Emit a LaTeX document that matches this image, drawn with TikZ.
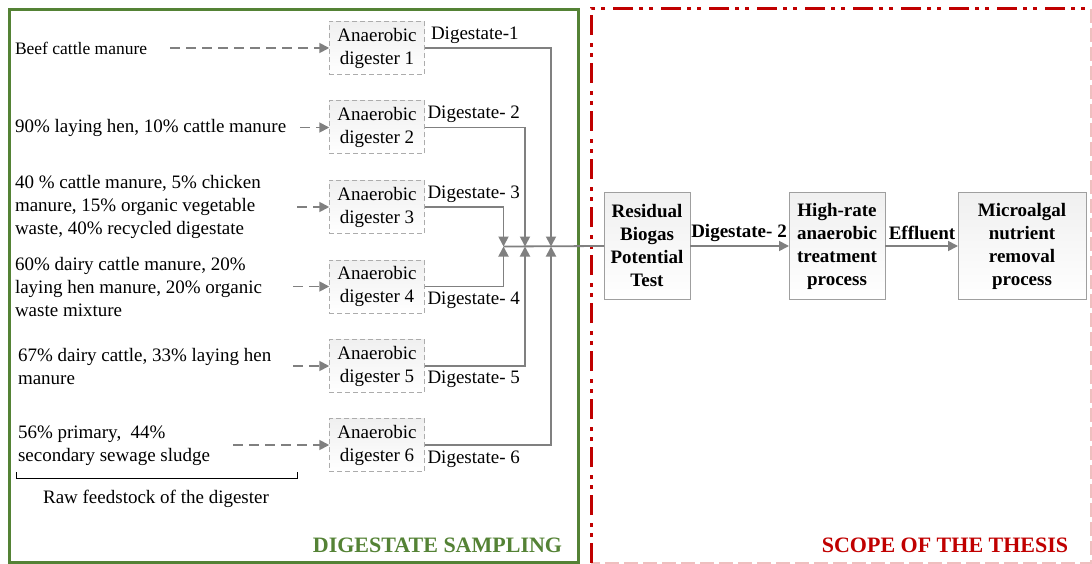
\documentclass[tikz,border=0pt]{standalone}
\usepackage{fontspec}
\setmainfont{Liberation Serif}
\usetikzlibrary{arrows.meta}
\definecolor{frameGreen}{RGB}{84,130,53}
\definecolor{frameRed}{RGB}{192,0,0}
\definecolor{lineGray}{RGB}{128,128,128}
\begin{document}
\begin{tikzpicture}[x=1pt,y=-1pt,
  every node/.style={inner sep=0pt, outer sep=0pt, font=\fontsize{19}{23}\selectfont},
  feedtext/.style={anchor=west, align=left},
  digbox/.style={draw=gray!65, line width=1pt, dash pattern=on 5pt off 3pt,
    top color=gray!12, bottom color=white, minimum width=95.5pt, minimum height=53pt, align=center},
  procbox/.style={draw=gray!75, line width=1pt, top color=gray!12, bottom color=white,
    minimum height=106pt, align=center, font=\bfseries\fontsize{19}{23}\selectfont},
  conn/.style={draw=lineGray, line width=1.8pt},
  tipped/.style={-{Triangle[length=10pt,width=10pt]}},
  feed/.style={conn, tipped, dash pattern=on 10pt off 6pt},
  dlabel/.style={anchor=west},
  blabel/.style={font=\bfseries\fontsize{19}{23}\selectfont},
  greenframe/.style={draw=frameGreen, line width=3pt},
  redframe/.style={draw=frameRed, line width=3pt,
    dash pattern=on 20pt off 6pt on 4pt off 6pt on 4pt off 8pt},
  redfaint/.style={draw=frameRed!25, line width=2pt, dash pattern=on 14pt off 5pt},
  titletext/.style={font=\bfseries\fontsize{22}{26}\selectfont}
]
\useasboundingbox (0,0) rectangle (1092,564);

% frames
\draw[greenframe] (9.5,9.5) rectangle (578,562);
\coordinate (r1) at (591,563);
\coordinate (r2) at (591,9);
\coordinate (r3) at (1091,9);
\coordinate (r4) at (1091,563);
\draw[redfaint] (r3) -- (r4) -- (r1);
\draw[redframe] (r1) -- (r2) -- (r3);

% feedstock texts
\node[feedtext, font=\fontsize{17.5}{23}\selectfont] (f1) at (15,48) {Beef cattle manure};
\node[feedtext] (f2) at (15,128) {90\% laying hen, 10\% cattle manure};
\node[feedtext] (f3) at (15,207) {40 \% cattle manure, 5\% chicken\\manure, 15\% organic vegetable\\waste, 40\% recycled digestate};
\node[feedtext] (f4) at (15,287) {60\% dairy cattle manure, 20\%\\laying hen manure, 20\% organic\\waste mixture};
\node[feedtext] (f5) at (18,366) {67\% dairy cattle, 33\% laying hen\\manure};
\node[feedtext] (f6) at (18,445.5) {56\% primary,\ \ 44\%\\secondary sewage sludge};

% digesters
\node[digbox] (d1) at (377,48) {Anaerobic\\digester 1};
\node[digbox] (d2) at (377,127.5) {Anaerobic\\digester 2};
\node[digbox] (d3) at (377,207) {Anaerobic\\digester 3};
\node[digbox] (d4) at (377,286.5) {Anaerobic\\digester 4};
\node[digbox] (d5) at (377,366) {Anaerobic\\digester 5};
\node[digbox] (d6) at (377,445) {Anaerobic\\digester 6};

% feed arrows
\coordinate (s1) at (170,48);
\coordinate (s2) at (300,127.5);
\coordinate (s3) at (297,207);
\coordinate (s4) at (293,286.5);
\coordinate (s5) at (293,366);
\coordinate (s6) at (233,445);
\draw[feed] (s1) -- (d1.west);
\draw[feed] (s2) -- (d2.west);
\draw[feed] (s3) -- (d3.west);
\draw[feed] (s4) -- (d4.west);
\draw[feed] (s5) -- (d5.west);
\draw[feed] (s6) -- (d6.west);

% bracket
\coordinate (b1) at (16,472);
\coordinate (b2) at (297,472);
\draw[black, line width=0.9pt] (b1) -- ++(0,6) -| (b2);
\node (raw) at (156,499) {Raw feedstock of the digester};

% process boxes
\node[procbox, minimum width=86pt] (res) at (647,246) {Residual\\Biogas\\Potential\\Test};
\node[procbox, minimum width=96pt] (hr) at (837,246) {High-rate\\anaerobic\\treatment\\process};
\node[procbox, minimum width=128pt] (mic) at (1022,246) {Microalgal\\nutrient\\removal\\process};

% junction
\coordinate (j3) at (503.5,246.5);
\coordinate (j2) at (525,246.5);
\coordinate (j1) at (551,246.5);
\draw[conn] (j3) -- (res.west);
\draw[conn, tipped] (d1.east) -| (j1);
\draw[conn, tipped] (d6.east) -| (j1);
\draw[conn, tipped] (d2.east) -| (j2);
\draw[conn, tipped] (d5.east) -| (j2);
\draw[conn, tipped] (d3.east) -| (j3);
\draw[conn, tipped] (d4.east) -| (j3);

% digestate labels
\node[dlabel] (l1) at (431,35) {Digestate-1};
\node[dlabel] (l2) at (427.5,114) {Digestate- 2};
\node[dlabel] (l3) at (427.5,194) {Digestate- 3};
\node[dlabel] (l4) at (427.5,300) {Digestate- 4};
\node[dlabel] (l5) at (427.5,379) {Digestate- 5};
\node[dlabel] (l6) at (427.5,459) {Digestate- 6};

% process arrows
\draw[conn, tipped] (res.east) -- (hr.west);
\draw[conn, tipped] (hr.east) -- (mic.west);
\node[blabel] (la) at (739,233) {Digestate- 2};
\node[blabel] (lb) at (922,233) {Effluent};

% titles
\node[titletext, text=frameGreen] (t1) at (437.5,545) {DIGESTATE SAMPLING};
\node[titletext, text=frameRed] (t2) at (945,545) {SCOPE OF THE THESIS};
\end{tikzpicture}
\end{document}
